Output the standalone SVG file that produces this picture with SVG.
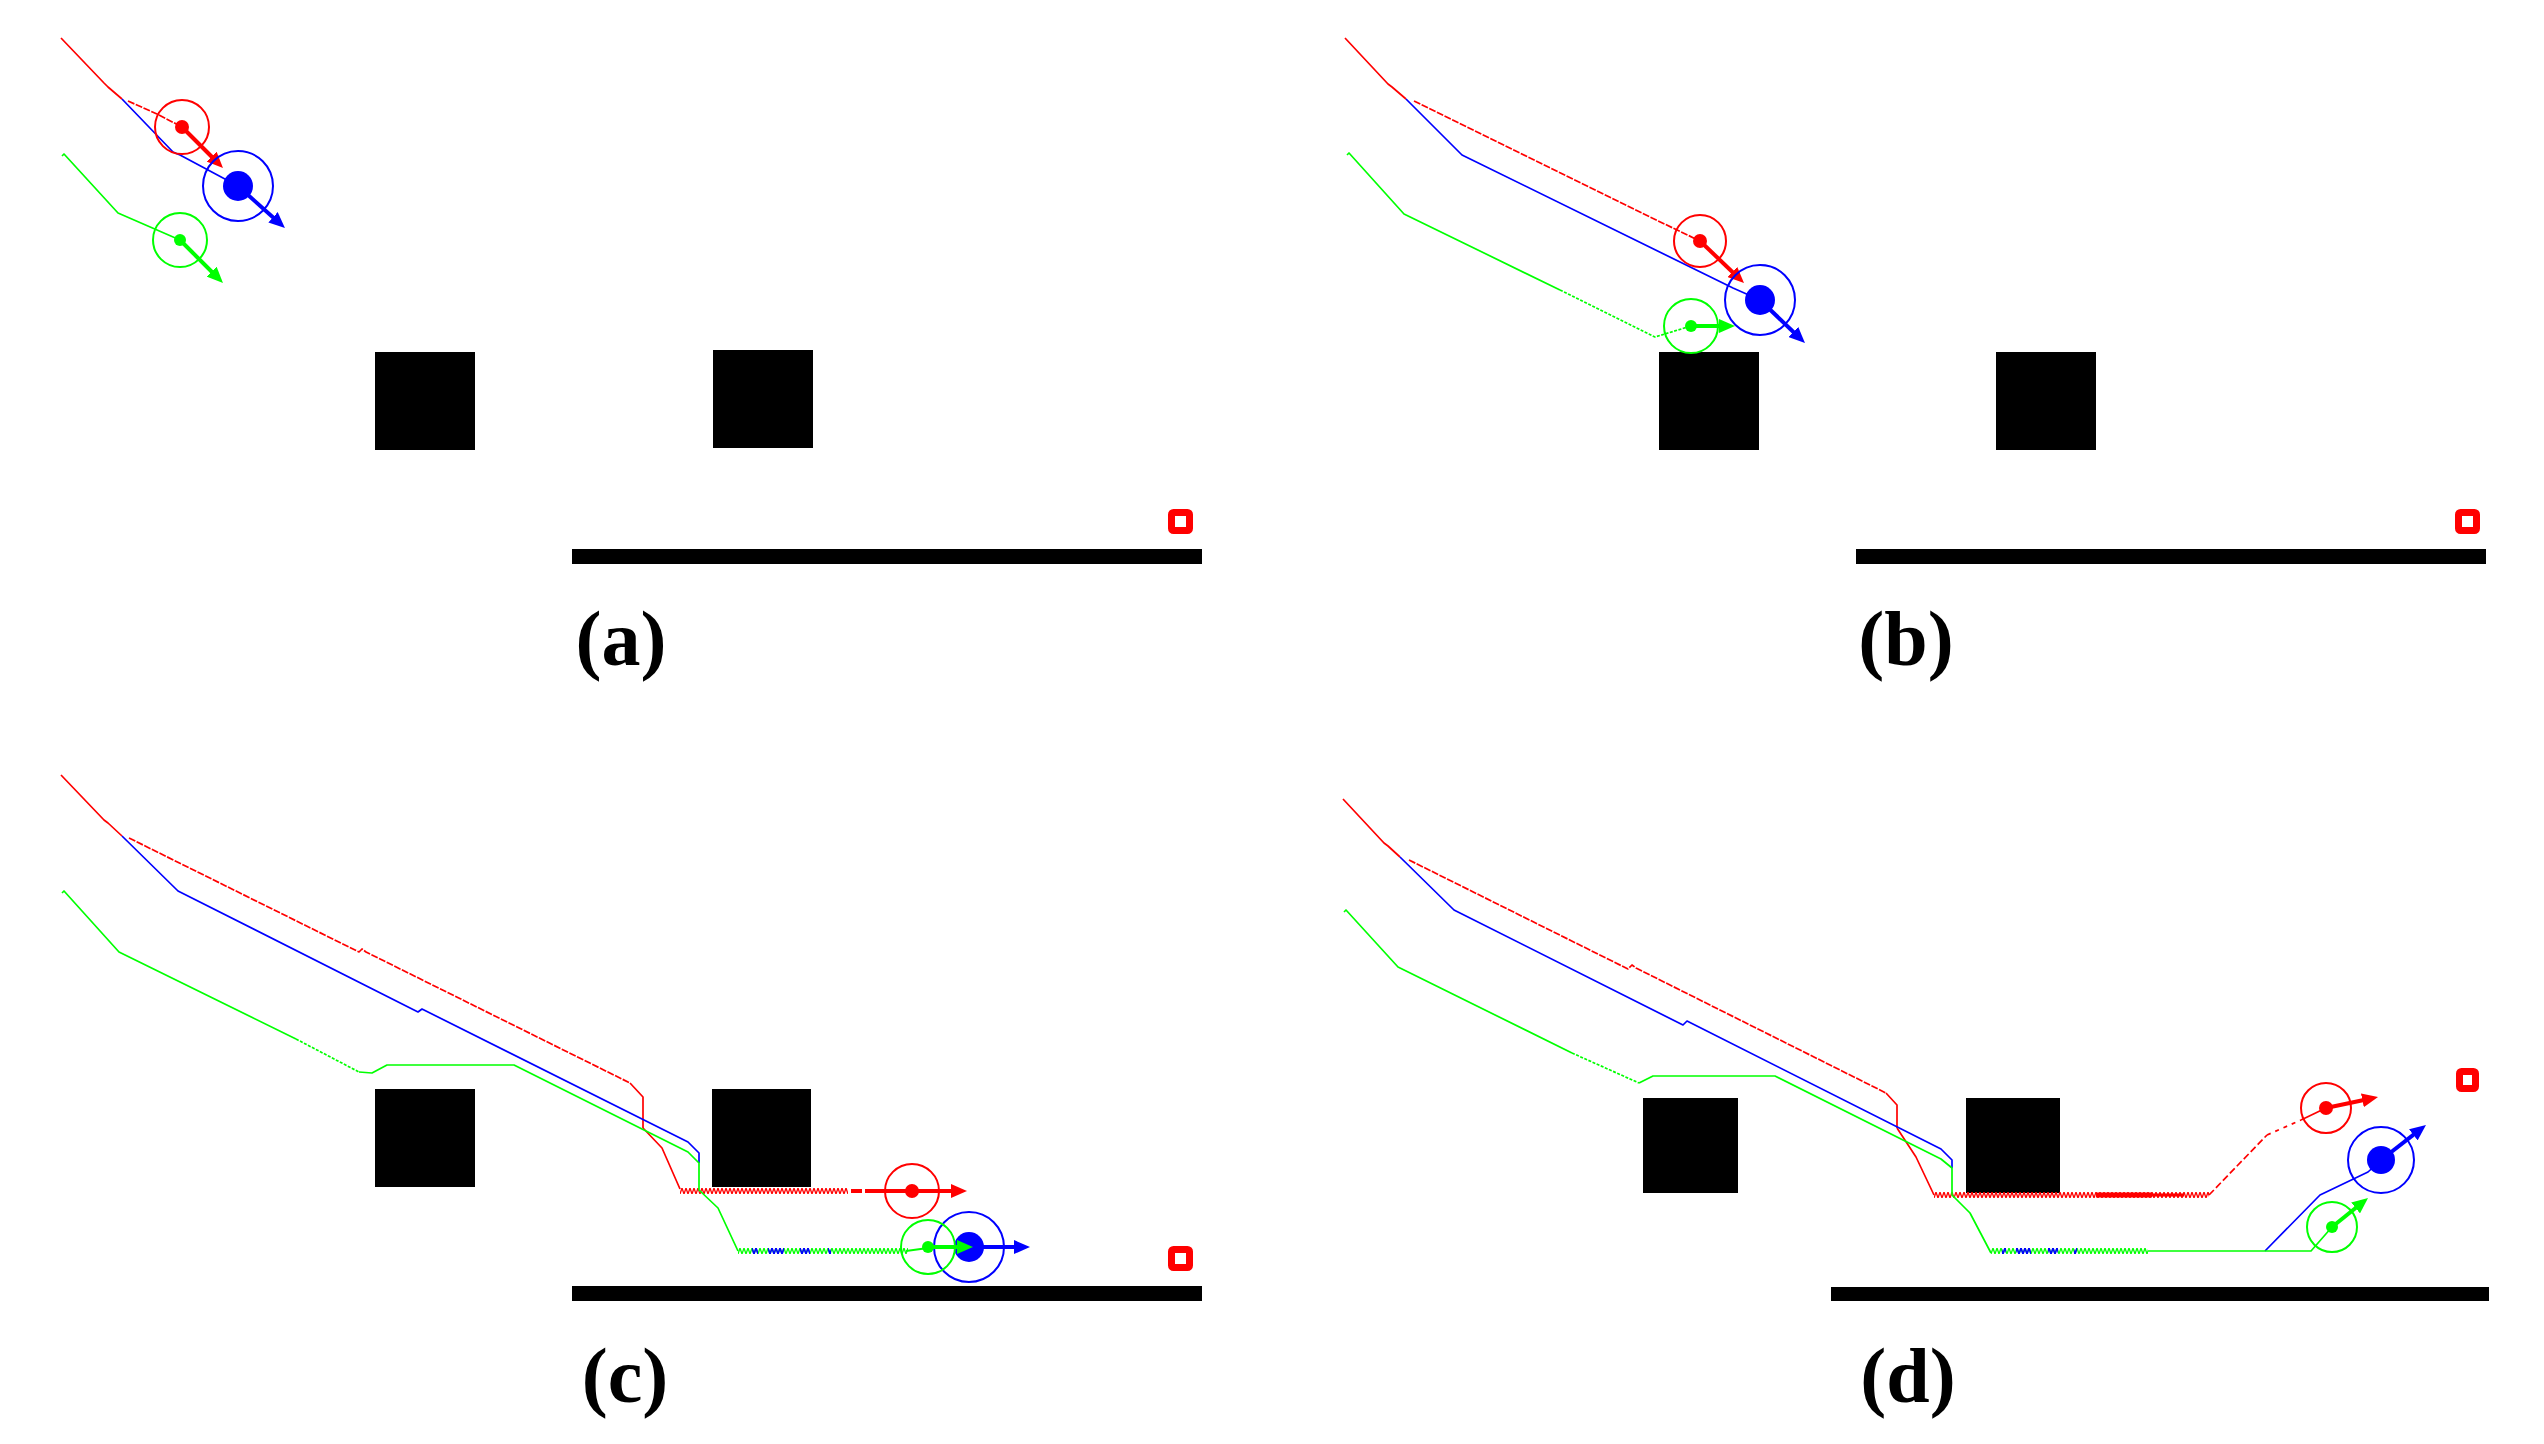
<svg xmlns="http://www.w3.org/2000/svg" width="2544" height="1444" viewBox="0 0 2544 1444">
<style>
.bg{fill:#fff}
.obs{fill:#000}
.tgt{fill:none;stroke:#f00;stroke-width:7}
.tr{fill:none;stroke-width:1.7;stroke-linejoin:round}
.r{stroke:#f00}.b{stroke:#00f}.g{stroke:#0f0}
.rd{stroke-dasharray:7 1.5}
.ring{fill:none;stroke-width:2}
.arr{stroke-width:4;fill:none}
.lbl{font-family:"Liberation Serif","Times New Roman",serif;font-weight:bold;font-size:78px;fill:#000;text-anchor:middle}
</style>
<defs>
<marker id="ahR" markerUnits="userSpaceOnUse" viewBox="0 0 16 14" markerWidth="16" markerHeight="14" refX="4" refY="7" orient="auto"><path d="M0,0 L16,7 L0,14 z" fill="#f00"/></marker>
<marker id="ahB" markerUnits="userSpaceOnUse" viewBox="0 0 16 14" markerWidth="16" markerHeight="14" refX="4" refY="7" orient="auto"><path d="M0,0 L16,7 L0,14 z" fill="#00f"/></marker>
<marker id="ahG" markerUnits="userSpaceOnUse" viewBox="0 0 16 14" markerWidth="16" markerHeight="14" refX="4" refY="7" orient="auto"><path d="M0,0 L16,7 L0,14 z" fill="#0f0"/></marker>
<pattern id="zzR" width="4" height="6" patternUnits="userSpaceOnUse"><path d="M0,6 L2,0 L4,6" fill="none" stroke="#f00" stroke-width="1.3"/></pattern>
<pattern id="zzG" width="4" height="6" patternUnits="userSpaceOnUse"><path d="M0,6 L2,0 L4,6" fill="none" stroke="#0f0" stroke-width="1.3"/></pattern>
<pattern id="zzB" width="4" height="6" patternUnits="userSpaceOnUse"><path d="M0,6 L2,0 L4,6" fill="none" stroke="#00f" stroke-width="1.6"/></pattern>
</defs>
<rect class="bg" x="0" y="0" width="2544" height="1444"/>

<!-- Panel (a) -->
<g id="panel-a">
  <rect id="a-obs1" class="obs" x="375" y="352" width="100" height="98"/>
  <rect id="a-obs2" class="obs" x="713" y="350" width="100" height="98"/>
  <rect id="a-floor" class="obs" x="572" y="549" width="630" height="15"/>
  <rect id="a-target" class="tgt" x="1171.5" y="512.5" width="18" height="18" rx="2"/>
  <g id="a-trails">
    <polyline class="tr r" points="61,38 104,83 108,87 122,99"/>
    <polyline class="tr r rd" points="128,101 157,114 182,127"/>
    <polyline class="tr b" points="122,99 173,152 180,155 238,186"/>
    <polyline class="tr g" points="62,156 64,154 118,213 180,240"/>
  </g>
  <g id="a-robot-red"><circle class="ring r" cx="182" cy="127" r="27"/><circle cx="182" cy="127" r="7" fill="#f00"/><line class="arr r" x1="182" y1="127" x2="214.5" y2="159.5" marker-end="url(#ahR)"/></g>
  <g id="a-robot-blue"><circle class="ring b" cx="238" cy="186" r="35"/><circle cx="238" cy="186" r="15" fill="#00f"/><line class="arr b" x1="238" y1="186" x2="276" y2="220" marker-end="url(#ahB)"/></g>
  <g id="a-robot-green"><circle class="ring g" cx="180" cy="240" r="27"/><circle cx="180" cy="240" r="6" fill="#0f0"/><line class="arr g" x1="180" y1="240" x2="214.5" y2="274.5" marker-end="url(#ahG)"/></g>
  <text id="a-label" class="lbl" x="621" y="665">(a)</text>
</g>

<!-- Panel (b) -->
<g id="panel-b">
  <rect id="b-obs1" class="obs" x="1659" y="352" width="100" height="98"/>
  <rect id="b-obs2" class="obs" x="1996" y="352" width="100" height="98"/>
  <rect id="b-floor" class="obs" x="1856" y="549" width="630" height="15"/>
  <rect id="b-target" class="tgt" x="2458.5" y="512.5" width="18" height="18" rx="2"/>
  <g id="b-trails">
    <polyline class="tr r" points="1345,38 1388,84 1392,87 1406,99"/>
    <polyline class="tr r rd" points="1414,101 1650,217 1700,241"/>
    <polyline class="tr b" points="1406,99 1462,155 1733,288 1760,300"/>
    <polyline class="tr g" points="1347,155 1349,153 1404,214 1560,290"/>
    <polyline class="tr g" stroke-dasharray="3 1.5" stroke-width="3" points="1560,290 1655,337 1691,326"/>
  </g>
  <g id="b-robot-red"><circle class="ring r" cx="1700" cy="241" r="26"/><circle cx="1700" cy="241" r="7" fill="#f00"/><line class="arr r" x1="1700" y1="241" x2="1735.3" y2="274.7" marker-end="url(#ahR)"/></g>
  <g id="b-robot-blue"><circle class="ring b" cx="1760" cy="300" r="35"/><circle cx="1760" cy="300" r="15" fill="#00f"/><line class="arr b" x1="1760" y1="300" x2="1796.3" y2="334.7" marker-end="url(#ahB)"/></g>
  <g id="b-robot-green"><circle class="ring g" cx="1691" cy="326" r="27"/><circle cx="1691" cy="326" r="6" fill="#0f0"/><line class="arr g" x1="1691" y1="326" x2="1723" y2="326" marker-end="url(#ahG)"/></g>
  <text id="b-label" class="lbl" x="1906" y="665">(b)</text>
</g>

<!-- Panel (c) -->
<g id="panel-c">
  <rect id="c-obs1" class="obs" x="375" y="1089" width="100" height="98"/>
  <rect id="c-obs2" class="obs" x="712" y="1089" width="99" height="98"/>
  <rect id="c-floor" class="obs" x="572" y="1286" width="630" height="15"/>
  <rect id="c-target" class="tgt" x="1171.5" y="1249.5" width="18" height="18" rx="2"/>
  <g id="c-trails">
    <polyline class="tr r" points="61,775 104,820 108,823 122,836"/>
    <polyline class="tr r rd" points="129,838 359,952 362,949 366,952 630,1083"/>
    <polyline class="tr r" stroke-width="3" points="630,1083 643,1097 643,1128"/>
    <polyline class="tr r" points="643,1128 662,1148 680,1189"/>
    <g transform="translate(680,1188)"><rect width="168" height="6" fill="url(#zzR)"/></g>
    <line class="r" stroke-width="4" x1="851" y1="1191" x2="862" y2="1191"/>
    <line class="r" stroke-width="4" x1="865" y1="1191" x2="912" y2="1191"/>
    <polyline class="tr b" points="122,836 178,891 418,1012 422,1009 688,1142 699,1153 699,1163"/>
    <polyline class="tr g" points="62,893 64,891 119,952 296,1039"/>
    <polyline class="tr g" stroke-dasharray="3 1.5" stroke-width="3" points="296,1039 359,1072"/>
    <polyline class="tr g" points="359,1072 372,1073 387,1065 514,1065 688,1152 699,1163 699,1190 718,1208 738,1251"/>
    <g transform="translate(738,1248)"><rect width="170" height="6" fill="url(#zzG)"/><rect x="14" width="6" height="6" fill="url(#zzB)"/><rect x="30" width="16" height="6" fill="url(#zzB)"/><rect x="62" width="10" height="6" fill="url(#zzB)"/><rect x="90" width="3" height="6" fill="url(#zzB)"/></g>
    <line class="g" stroke-width="2" x1="906" y1="1251" x2="928" y2="1248"/>
  </g>
  <g id="c-robot-red"><circle class="ring r" cx="912" cy="1191" r="27"/><circle cx="912" cy="1191" r="7" fill="#f00"/><line class="arr r" x1="912" y1="1191" x2="955" y2="1191" marker-end="url(#ahR)"/></g>
  <g id="c-robot-blue"><circle class="ring b" cx="969" cy="1247" r="35"/><circle cx="969" cy="1247" r="15" fill="#00f"/><line class="arr b" x1="969" y1="1247" x2="1018" y2="1247" marker-end="url(#ahB)"/></g>
  <g id="c-robot-green"><circle class="ring g" cx="928" cy="1247" r="27"/><circle cx="928" cy="1247" r="6" fill="#0f0"/><line class="arr g" x1="928" y1="1247" x2="961" y2="1247" marker-end="url(#ahG)"/></g>
  <text id="c-label" class="lbl" x="625" y="1402">(c)</text>
</g>

<!-- Panel (d) -->
<g id="panel-d">
  <rect id="d-obs1" class="obs" x="1643" y="1098" width="95" height="95"/>
  <rect id="d-obs2" class="obs" x="1966" y="1098" width="94" height="95"/>
  <rect id="d-floor" class="obs" x="1831" y="1287" width="658" height="14"/>
  <rect id="d-target" class="tgt" x="2459.5" y="1071.5" width="16" height="17" rx="2"/>
  <g id="d-trails">
    <polyline class="tr r" points="1343,799 1384,843 1388,846 1400,857"/>
    <polyline class="tr r rd" points="1409,860 1628,969 1632,965 1636,968 1886,1093"/>
    <polyline class="tr r" stroke-width="3" points="1886,1093 1897,1105 1897,1128"/>
    <polyline class="tr r" points="1897,1128 1916,1157 1934,1195"/>
    <g transform="translate(1934,1192)"><rect width="275" height="6" fill="url(#zzR)"/></g>
    <line class="r" stroke-width="5" x1="2096" y1="1195" x2="2152" y2="1195"/>
    <line class="r" stroke-width="3" x1="2152" y1="1195" x2="2184" y2="1195"/>
    <polyline class="tr r" stroke-width="4" stroke-dasharray="7 3" points="2209,1195 2267,1135"/>
    <polyline class="tr r" stroke-width="2.5" stroke-dasharray="4 5" points="2267,1135 2301,1120"/>
    <polyline class="tr r" stroke-width="3" points="2301,1120 2326,1108"/>
    <polyline class="tr b" points="1400,857 1454,910 1683,1025 1687,1021 1941,1149 1952,1160 1952,1168"/>
    <polyline class="tr b" points="2265,1251 2320,1195 2368,1172 2381,1160"/>
    <polyline class="tr g" points="1344,912 1346,910 1398,967 1572,1053"/>
    <polyline class="tr g" stroke-dasharray="3 1.5" stroke-width="3" points="1572,1053 1639,1083"/>
    <polyline class="tr g" points="1639,1083 1653,1076 1775,1076 1941,1159 1952,1168 1952,1195 1970,1213 1991,1253"/>
    <g transform="translate(1991,1248)"><rect width="157" height="6" fill="url(#zzG)"/><rect x="11" width="4" height="6" fill="url(#zzB)"/><rect x="25" width="15" height="6" fill="url(#zzB)"/><rect x="57" width="10" height="6" fill="url(#zzB)"/><rect x="83" width="3" height="6" fill="url(#zzB)"/></g>
    <polyline class="tr g" points="2148,1251 2311,1251 2332,1227"/>
  </g>
  <g id="d-robot-red"><circle class="ring r" cx="2326" cy="1108" r="25"/><circle cx="2326" cy="1108" r="7" fill="#f00"/><line class="arr r" x1="2326" y1="1108" x2="2366.3" y2="1099.5" marker-end="url(#ahR)"/></g>
  <g id="d-robot-blue"><circle class="ring b" cx="2381" cy="1160" r="33"/><circle cx="2381" cy="1160" r="14" fill="#00f"/><line class="arr b" x1="2381" y1="1160" x2="2416.5" y2="1132.4" marker-end="url(#ahB)"/></g>
  <g id="d-robot-green"><circle class="ring g" cx="2332" cy="1227" r="25"/><circle cx="2332" cy="1227" r="6" fill="#0f0"/><line class="arr g" x1="2332" y1="1227" x2="2358.7" y2="1205.5" marker-end="url(#ahG)"/></g>
  <text id="d-label" class="lbl" x="1908" y="1402">(d)</text>
</g>
</svg>
